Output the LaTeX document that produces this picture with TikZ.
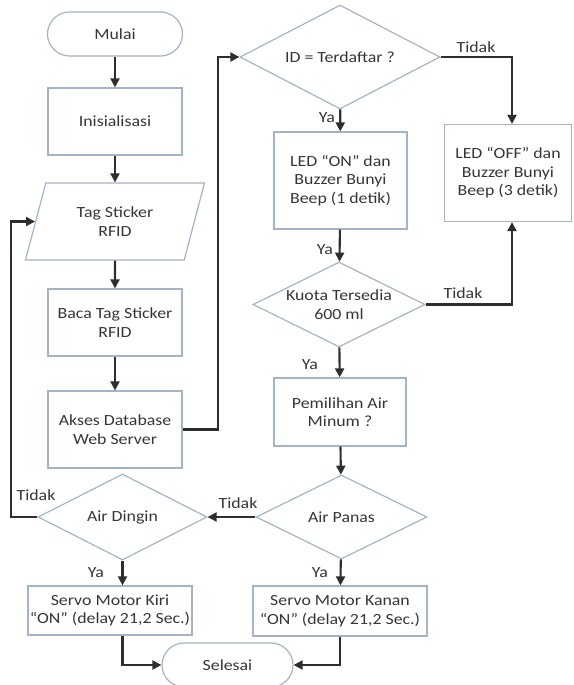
\documentclass[tikz,border=0pt]{standalone}
\usepackage{fontspec}
\setmainfont{Carlito}[FakeStretch=1.15]
\usepackage{tikz}
\usetikzlibrary{arrows.meta,shapes.geometric,calc}
\definecolor{edge}{HTML}{A3B4C6}
\definecolor{ink}{HTML}{353535}
\definecolor{wire}{HTML}{2E2E2E}
\tikzset{
  base/.style  ={draw=edge, line width=1.2pt, text=ink, align=center,
                 font=\fontsize{15.5}{18.5}\selectfont, inner sep=2pt},
  term/.style  ={base, rounded corners=22pt, minimum width=135pt, minimum height=44pt},
  proc/.style  ={base, rectangle, minimum width=134pt, minimum height=67pt},
  io/.style    ={base, trapezium, trapezium left angle=58.6, trapezium right angle=121.4,
                 minimum height=77pt, minimum width=179pt, trapezium stretches body},
  dec/.style   ={base, diamond, aspect=2, inner sep=0pt},
  fl/.style    ={draw=wire, line width=2.1pt, -{Triangle[length=9pt,width=9pt]}},
  ln/.style    ={font=\fontsize{15.5}{18.5}\selectfont, text=ink, inner sep=1pt},
}

\begin{document}
\begin{tikzpicture}[x=1pt,y=-1pt]
  \useasboundingbox (0,0) rectangle (573,685);
  % kolom kiri
  \node[term] (mulai) at (115,34) {Mulai};
  \node[proc] (init) at (115,121.5) {Inisialisasi};
  \node[io] (tag) at (115,221.5) {Tag Sticker\\RFID};
  \node[proc] (baca) at (115,322.5) {Baca Tag Sticker\\RFID};
  \node[proc,minimum height=77pt] (akses) at (115,429.5) {Akses Database\\Web Server};
  % kolom tengah
  \node[dec,minimum width=200pt,minimum height=104pt] (idcek) at (340,57) {ID = Terdaftar ?};
  \node[proc,minimum width=133pt,minimum height=97pt] (ledon) at (340.5,180.5)
    {LED ``ON'' dan\\Buzzer Bunyi\\Beep (1 detik)};
  \node[proc,minimum width=127pt,minimum height=97pt] (ledoff) at (508,173)
    {LED ``OFF'' dan\\Buzzer Bunyi\\Beep (3 detik)};
  \node[dec,minimum width=172pt,minimum height=85pt] (kuota) at (339,304.5)
    {Kuota Tersedia\\600 ml};
  \node[proc,minimum width=132pt,minimum height=68pt] (pilih) at (340,412)
    {Pemilihan Air\\Minum ?};
  \node[dec,minimum width=171pt,minimum height=84pt] (panas) at (341.5,517) {Air Panas};
  \node[dec,minimum width=169pt,minimum height=86pt] (dingin) at (122.5,517) {Air Dingin};
  \node[proc,minimum width=144pt,minimum height=49pt] (kiri) at (110,610.5)
    {Servo Motor Kiri\\``ON'' (delay 21,2 Sec.)};
  \node[proc,minimum width=174pt,minimum height=50pt] (kanan) at (340,611)
    {Servo Motor Kanan\\``ON'' (delay 21,2 Sec.)};
  \node[term,minimum width=131pt] (selesai) at (227.5,665) {Selesai};
  % label cabang
  \node[ln] (t1) at (476,47) {Tidak};
  \node[ln] (y1) at (327,118) {Ya};
  \node[ln] (y2) at (325,250) {Ya};
  \node[ln] (t2) at (463,293) {Tidak};
  \node[ln] (y3) at (310,365) {Ya};
  \node[ln] (t3) at (238,503) {Tidak};
  \node[ln] (t4) at (36,495) {Tidak};
  \node[ln] (y4) at (96,573) {Ya};
  \node[ln] (y5) at (320,573) {Ya};
  % alur
  \draw[fl] (mulai) -- (init);
  \draw[fl] (init) -- (tag);
  \draw[fl] (tag) -- (baca);
  \draw[fl] (baca) -- (akses);
  \draw[fl] (akses.east) -- ++(35,0) |- (idcek.west);
  \draw[fl] (idcek) -- (ledon);
  \draw[fl] (idcek.east) -| ($(ledoff.north)+(4,0)$);
  \draw[fl] (ledon) -- (kuota);
  \draw[fl] (kuota.east) -| ($(ledoff.south)+(4,0)$);
  \draw[fl] (kuota) -- (pilih);
  \draw[fl] (pilih) -- (panas);
  \draw[fl] (panas.west) -- (dingin.east);
  \draw[fl] (dingin.west) -- ++(-26,0) |- (tag.west);
  \draw[fl] (dingin.south) -- (dingin.south |- kiri.north);
  \draw[fl] (panas) -- (kanan);
  \draw[fl] (dingin.south |- kiri.south) |- (selesai.west);
  \draw[fl] (kanan.south) |- (selesai.east);
\end{tikzpicture}
\end{document}
